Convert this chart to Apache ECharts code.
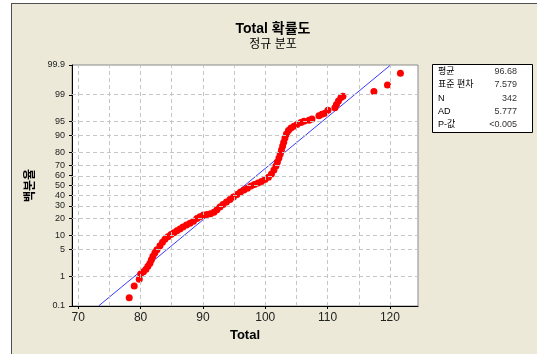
<!DOCTYPE html>
<html>
<head>
<meta charset="utf-8">
<script src="https://cdn.jsdelivr.net/npm/echarts@6/dist/echarts.min.js"></script>
<style>
  html, body { margin: 0; padding: 0; background: #ffffff; }
  #wrap { position: relative; width: 537px; height: 354px; overflow: hidden; }
  #frame { position: absolute; left: 11px; top: 3px; width: 560px; height: 400px;
           background: #ECE9D8; border-left: 1px solid #505050; border-top: 1px solid #505050; }
  #chart { position: absolute; left: 0; top: 0; width: 537px; height: 354px; }
</style>
</head>
<body>
<div id="wrap"><div id="frame"></div><div id="chart"></div></div>
<script>
// Observed Total values with their cumulative percentages
const totals = [
  78.18, 78.98, 79.79, 80.01, 80.46, 80.86, 81.18, 81.50, 81.74, 81.98,
  82.30, 82.62, 83.11, 83.51, 83.91, 84.39, 84.87, 85.35, 85.83, 86.31,
  86.79, 87.36, 87.92, 88.48, 89.04, 89.52, 90.08, 90.64, 91.21, 91.77,
  92.25, 92.73, 93.21, 93.77, 94.33, 94.90, 95.46, 96.02, 96.58, 97.14,
  97.70, 98.26, 98.83, 99.39, 99.95, 100.51, 100.99, 101.39, 101.71, 101.95,
  102.19, 102.40, 102.60, 102.79, 102.96, 103.16, 103.40, 103.72, 104.12, 104.60,
  105.08, 105.72, 106.20, 107.01, 107.49, 108.61, 109.09, 109.57, 110.05, 111.17,
  111.42, 111.74, 112.14, 112.46, 117.43, 119.60, 121.68
];
const percents = [
  0.20, 0.50, 0.81, 1.17, 1.35, 1.59, 1.93, 2.32, 2.86, 3.49,
  4.25, 4.99, 6.14, 7.31, 8.44, 9.48, 10.4, 11.3, 12.3, 13.2,
  14.3, 15.5, 16.7, 18.0, 19.8, 21.2, 22.4, 22.8, 23.5, 24.7,
  26.8, 29.0, 31.2, 33.5, 35.9, 38.3, 40.8, 43.3, 45.3, 47.3,
  49.4, 50.9, 52.5, 54.0, 56.0, 58.5, 61.5, 65.4, 69.1, 72.6,
  75.9, 79.0, 81.8, 84.4, 86.7, 88.8, 90.7, 92.1, 93.0, 93.6,
  94.1, 94.7, 95.0, 95.3, 95.6, 96.3, 96.6, 96.8, 97.3, 97.7,
  98.1, 98.5, 98.8, 98.9, 99.2, 99.5, 99.8
];

// Fitted normal distribution
const fitMean = 96.68;
const fitStDev = 7.579;

// Summary table
const statLabels = ['평균', '표준 편차', 'N', 'AD', 'P-값'];
const statValues = ['96.68', '7.579', '342', '5.777', '<0.005'];

// Axis ticks
const xTicks = [70, 80, 90, 100, 110, 120];
const xGridValues = [70, 75, 80, 85, 90, 95, 100, 105, 110, 115, 120];
const pctTicks = [0.1, 1, 5, 10, 20, 30, 40, 50, 60, 70, 80, 90, 95, 99, 99.9];
const pctTickLabels = ['0.1', '1', '5', '10', '20', '30', '40', '50', '60', '70', '80', '90', '95', '99', '99.9'];
const pctGridValues = [1, 5, 10, 20, 30, 40, 50, 60, 70, 80, 90, 95, 99];

// Inverse standard normal CDF (Acklam) for the probability scale
function probit(p) {
  const a = [-3.969683028665376e+01, 2.209460984245205e+02, -2.759285104469687e+02,
             1.383577518672690e+02, -3.066479806614716e+01, 2.506628277459239e+00];
  const b = [-5.447609879822406e+01, 1.615858368580409e+02, -1.556989798598866e+02,
             6.680131188771972e+01, -1.328068155288572e+01];
  const c = [-7.784894002430293e-03, -3.223964580411365e-01, -2.400758277161838e+00,
             -2.549732539343734e+00, 4.374664141464968e+00, 2.938163982698783e+00];
  const d = [7.784695709041462e-03, 3.224671290700398e-01, 2.445134137142996e+00,
             3.754408661907416e+00];
  const pl = 0.02425, ph = 1 - pl;
  let q, r;
  if (p < pl) {
    q = Math.sqrt(-2 * Math.log(p));
    return (((((c[0]*q+c[1])*q+c[2])*q+c[3])*q+c[4])*q+c[5]) / ((((d[0]*q+d[1])*q+d[2])*q+d[3])*q+1);
  }
  if (p <= ph) {
    q = p - 0.5; r = q * q;
    return (((((a[0]*r+a[1])*r+a[2])*r+a[3])*r+a[4])*r+a[5])*q / (((((b[0]*r+b[1])*r+b[2])*r+b[3])*r+b[4])*r+1);
  }
  q = Math.sqrt(-2 * Math.log(1 - p));
  return -(((((c[0]*q+c[1])*q+c[2])*q+c[3])*q+c[4])*q+c[5]) / ((((d[0]*q+d[1])*q+d[2])*q+d[3])*q+1);
}

const yMin = probit(pctTicks[0] / 100);
const yMax = probit(pctTicks[pctTicks.length - 1] / 100);
const yTickZ = pctTicks.map(p => probit(p / 100));

const FONT = '"Liberation Sans", Arial, "Noto Sans CJK KR", sans-serif';

const points = totals.map((t, i) => [t, probit(percents[i] / 100)]);
const fitLine = [
  [fitMean + yMin * fitStDev, yMin],
  [fitMean + yMax * fitStDev, yMax]
];

// Summary box graphics
const boxX = 432, boxY = 64, boxW = 100, boxH = 68, rowY0 = 71.7, rowStep = 13.3;
const boxElements = [{
  type: 'rect', z: 100,
  shape: { x: boxX + 0.5, y: boxY + 0.5, width: boxW, height: boxH },
  style: { fill: '#ffffff', stroke: '#000000', lineWidth: 1 }
}];
statLabels.forEach((lab, i) => {
  boxElements.push({
    type: 'text', z: 101, x: 438, y: rowY0 + i * rowStep,
    style: { text: lab, font: '9px ' + FONT, fill: '#000', textAlign: 'left', textVerticalAlign: 'middle', verticalAlign: 'middle' }
  });
  boxElements.push({
    type: 'text', z: 101, x: 517, y: rowY0 + i * rowStep,
    style: { text: statValues[i], font: '9px ' + FONT, fill: '#333', textAlign: 'right', textVerticalAlign: 'middle', verticalAlign: 'middle' }
  });
});

const chart = echarts.init(document.getElementById('chart'), null, { renderer: 'canvas' });
chart.setOption({
  animation: false,
  backgroundColor: 'transparent',
  graphic: [
    { type: 'text', z: 100, x: 273, y: 29,
      style: { text: 'Total 확률도', font: 'bold 14px ' + FONT, fill: '#000', textAlign: 'center', textVerticalAlign: 'middle', verticalAlign: 'middle' } },
    { type: 'text', z: 100, x: 273, y: 44.5,
      style: { text: '정규 분포', font: '12px ' + FONT, fill: '#000', textAlign: 'center', textVerticalAlign: 'middle', verticalAlign: 'middle' } }
  ].concat(boxElements),
  grid: {
    left: 72, right: 119, top: 65, bottom: 48,
    show: true, backgroundColor: '#ffffff', borderColor: '#8a8a8a', borderWidth: 1
  },
  xAxis: {
    type: 'value', min: 69, max: 124.5,
    name: 'Total', nameLocation: 'middle', nameGap: 20,
    nameTextStyle: { fontFamily: FONT, fontSize: 13, fontWeight: 'bold', color: '#000' },
    axisLine: { show: true, onZero: false, lineStyle: { color: '#000', width: 1 } },
    axisTick: { show: true, inside: false, length: 3, customValues: xTicks, lineStyle: { color: '#000' } },
    axisLabel: { customValues: xTicks, fontFamily: FONT, fontSize: 12, color: '#222', margin: 6 },
    splitLine: { show: false }
  },
  yAxis: {
    type: 'value', min: yMin, max: yMax,
    name: '백분율', nameLocation: 'middle', nameRotate: 90, nameGap: 35,
    nameTextStyle: { fontFamily: FONT, fontSize: 12, fontWeight: 'bold', color: '#000' },
    axisLine: { show: true, onZero: false, lineStyle: { color: '#000', width: 1 } },
    axisTick: { show: true, inside: false, length: 3, customValues: yTickZ, lineStyle: { color: '#000' } },
    axisLabel: {
      customValues: yTickZ, fontFamily: FONT, fontSize: 9, color: '#222', margin: 7,
      formatter: function (v) {
        let best = 0;
        for (let i = 1; i < yTickZ.length; i++) {
          if (Math.abs(yTickZ[i] - v) < Math.abs(yTickZ[best] - v)) best = i;
        }
        return pctTickLabels[best];
      }
    },
    splitLine: { show: false }
  },
  series: [
    {
      type: 'scatter', data: [], z: 1, silent: true,
      markLine: {
        silent: true, symbol: ['none', 'none'], label: { show: false },
        lineStyle: { type: [4, 3], color: '#c6c6c6', width: 1 },
        emphasis: { disabled: true },
        data: xGridValues.map(v => ({ xAxis: v }))
          .concat(pctGridValues.map(p => ({ yAxis: probit(p / 100) })))
      }
    },
    {
      type: 'line', data: fitLine, z: 2, symbol: 'none', silent: true,
      lineStyle: { color: '#3a3aff', width: 1 }
    },
    {
      type: 'scatter', data: points, z: 3, symbol: 'circle', symbolSize: 7,
      itemStyle: { color: '#ff0000', opacity: 1 }, silent: true
    }
  ]
});
</script>
</body>
</html>
